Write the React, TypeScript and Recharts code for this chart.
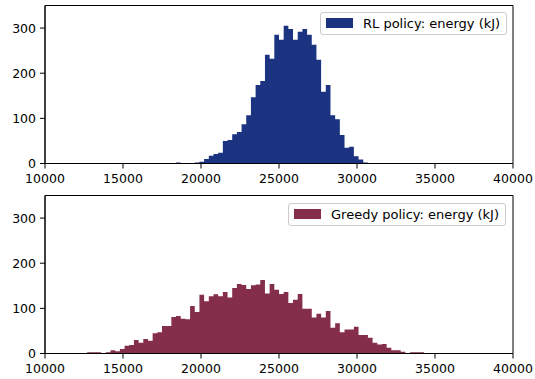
import React from "react";
import {
  ComposedChart,
  Area,
  XAxis,
  YAxis,
  Legend,
  ReferenceArea,
} from "recharts";

// Histogram bins: 100 bins of 300 kJ from 10000 to 40000
const BIN_START = 10000;
const BIN_WIDTH = 300;

const rlCounts: number[] = [
  0, 0, 0, 0, 0, 0, 0, 0, 0, 0,
  0, 0, 0, 0, 0, 0, 0, 0, 0, 0,
  0, 0, 0, 0, 0, 0, 0, 0, 2, 0,
  0, 1, 2, 4, 10, 17, 21, 24, 50, 52,
  65, 70, 87, 107, 147, 174, 183, 241, 232, 285,
  274, 305, 298, 274, 292, 298, 285, 263, 230, 159,
  174, 107, 98, 63, 35, 37, 16, 9, 2, 1,
  0, 0, 0, 0, 0, 0, 0, 0, 0, 0,
  0, 0, 0, 0, 0, 0, 0, 0, 0, 0,
  0, 0, 0, 0, 0, 0, 0, 0, 0, 0,
];

const greedyCounts: number[] = [
  0, 0, 0, 0, 0, 0, 0, 0, 0, 3,
  3, 3, 1, 3, 7, 5, 10, 17, 19, 30,
  24, 32, 28, 45, 47, 61, 61, 81, 83, 77,
  76, 105, 92, 130, 116, 127, 131, 127, 136, 124,
  145, 154, 152, 143, 151, 153, 163, 133, 154, 141,
  132, 136, 112, 119, 132, 99, 99, 80, 88, 80,
  94, 57, 67, 47, 53, 53, 59, 41, 41, 35,
  24, 20, 21, 13, 7, 7, 4, 1, 3, 3,
  3, 1, 1, 0, 0, 0, 0, 0, 0, 0,
  0, 0, 0, 0, 0, 0, 0, 0, 0, 0,
];

const xTicks: number[] = [10000, 15000, 20000, 25000, 30000, 35000, 40000];
const yTicks: number[] = [0, 100, 200, 300];

const rlLabel = "RL policy: energy (kJ)";
const greedyLabel = "Greedy policy: energy (kJ)";

const RL_COLOR = "#1b3380";
const GREEDY_COLOR = "#852e4c";

const FONT = "'DejaVu Sans', sans-serif";

function buildData(counts: number[]) {
  const rows = counts.map((c, i) => ({ x: BIN_START + i * BIN_WIDTH, v: c }));
  rows.push({ x: BIN_START + counts.length * BIN_WIDTH, v: 0 });
  return rows;
}

const rlData = buildData(rlCounts);
const greedyData = buildData(greedyCounts);

const tickStyle = { fontFamily: FONT, fontSize: 12.5, fill: "#000" };

function makeLegend(label: string, color: string) {
  return () => (
    <div
      style={{
        display: "flex",
        alignItems: "center",
        height: 21,
        padding: "0 6px 0 5px",
        border: "1px solid #cccccc",
        borderRadius: 3,
        background: "rgba(255,255,255,0.8)",
        fontFamily: FONT,
        fontSize: 13,
        color: "#000",
        whiteSpace: "nowrap",
      }}
    >
      <span
        style={{
          display: "inline-block",
          width: 27,
          height: 10,
          background: color,
          marginRight: 10,
        }}
      />
      <span>{label}</span>
    </div>
  );
}

function Panel(props: {
  data: { x: number; v: number }[];
  color: string;
  label: string;
  legendLeft: number;
  legendTop: number;
}) {
  const { data, color, label, legendLeft, legendTop } = props;
  return (
    <ComposedChart
      width={535}
      height={190}
      data={data}
      margin={{ top: 5.5, right: 22, left: 0, bottom: 0 }}
    >
      <XAxis
        dataKey="x"
        type="number"
        domain={[10000, 40000]}
        ticks={xTicks}
        interval={0}
        allowDataOverflow
        height={26.5}
        tickSize={5}
        tickMargin={6}
        tick={tickStyle}
        axisLine={{ stroke: "#000", strokeWidth: 1 }}
        tickLine={{ stroke: "#000", strokeWidth: 1 }}
      />
      <YAxis
        type="number"
        domain={[0, 350]}
        ticks={yTicks}
        interval={0}
        allowDataOverflow
        width={45}
        tickSize={5}
        tickMargin={4}
        tick={tickStyle}
        axisLine={{ stroke: "#000", strokeWidth: 1 }}
        tickLine={{ stroke: "#000", strokeWidth: 1 }}
      />
      <Area
        type="stepAfter"
        dataKey="v"
        name={label}
        stroke="none"
        fill={color}
        fillOpacity={1}
        isAnimationActive={false}
        dot={false}
        activeDot={false}
      />
      <ReferenceArea
        x1={10000}
        x2={40000}
        y1={0}
        y2={350}
        fill="none"
        fillOpacity={0}
        stroke="#000"
        strokeWidth={1}
        strokeOpacity={1}
        ifOverflow="visible"
      />
      <Legend
        layout="vertical"
        align="center"
        verticalAlign="middle"
        content={makeLegend(label, color)}
        wrapperStyle={{
          position: "absolute",
          left: legendLeft,
          top: legendTop,
          width: "auto",
          height: "auto",
        }}
      />
    </ComposedChart>
  );
}

export default function App() {
  return (
    <div
      style={{
        position: "absolute",
        left: 0,
        top: 0,
        width: 535,
        height: 379,
        background: "#fff",
      }}
    >
      <div style={{ position: "absolute", left: 0, top: 0 }}>
        <Panel
          data={rlData}
          color={RL_COLOR}
          label={rlLabel}
          legendLeft={320}
          legendTop={11.5}
        />
      </div>
      <div style={{ position: "absolute", left: 0, top: 190 }}>
        <Panel
          data={greedyData}
          color={GREEDY_COLOR}
          label={greedyLabel}
          legendLeft={288}
          legendTop={12.5}
        />
      </div>
    </div>
  );
}
